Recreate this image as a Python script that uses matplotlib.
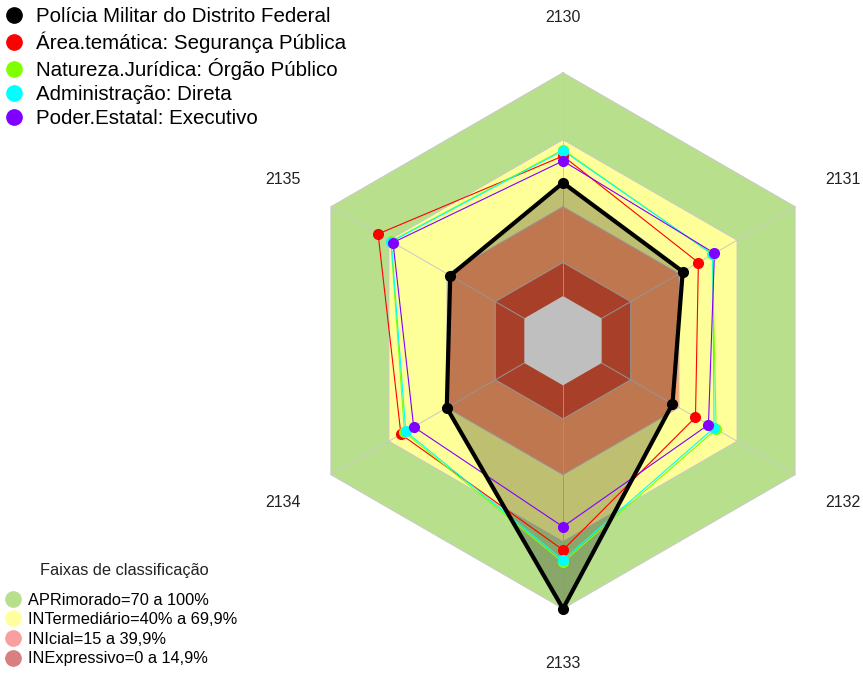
import matplotlib
matplotlib.use('Agg')
import matplotlib.pyplot as plt
import numpy as np
from matplotlib.lines import Line2D

plt.rcParams['font.family'] = ['Liberation Sans', 'DejaVu Sans']

axis_labels = ['2130', '2131', '2132', '2133', '2134', '2135']

series_names = [
    'Polícia Militar do Distrito Federal',
    'Área.temática: Segurança Pública',
    'Natureza.Jurídica: Órgão Público',
    'Administração: Direta',
    'Poder.Estatal: Executivo',
]
series_colors = ['black', '#FF0000', '#80FF00', '#00FFFF', '#8000FF']

pmdf = [50.7, 41.9, 36.6, 100.0, 40.1, 38.3]
area_tematica = [62.7, 50.0, 48.5, 73.7, 63.8, 75.6]
natureza = [65.5, 57.2, 59.2, 79.2, 62.0, 69.0]
administracao = [65.1, 57.4, 58.1, 78.2, 61.3, 68.8]
poder_estatal = [60.5, 58.3, 55.2, 63.3, 57.2, 67.9]

band_limits = [100, 70, 40, 15, 0]
band_colors = ['#B8E08C', '#FFFF99', '#FFA06B', '#E05538', '#FFFFFF']
band_title = 'Faixas de classificação'
band_labels = ['APRimorado=70 a 100%', 'INTermediário=40% a 69,9%',
               'INIcial=15 a 39,9%', 'INExpressivo=0 a 14,9%']
band_legend_colors = ['#B8E08C', '#FFFFA0', '#F8A0A0', '#D88080']

RMIN, RMAX = -20, 100
angles = np.deg2rad(90 - 60 * np.arange(len(axis_labels)))


def polygon(values):
    r = (np.asarray(values, dtype=float) - RMIN) / (RMAX - RMIN)
    x = r * np.cos(angles)
    y = r * np.sin(angles)
    return np.append(x, x[0]), np.append(y, y[0])


def ring(value):
    return polygon([value] * len(axis_labels))


W, H = 863, 675
R = 268.0
cx, cy = 563.0, 340.7

fig = plt.figure(figsize=(W / 100, H / 100), dpi=100)
ax = fig.add_axes([0, 0, 1, 1])
ax.set_xlim(-cx / R, (W - cx) / R)
ax.set_ylim((cy - H) / R, cy / R)
ax.set_aspect('equal')
ax.axis('off')

# classification bands
for lim, color in zip(band_limits, band_colors):
    x, y = ring(lim)
    ax.fill(x, y, color=color, lw=0, zorder=1)

# grid
grid_color = '#C8C8C8'
for lim in band_limits[:-1]:
    x, y = ring(lim)
    ax.plot(x, y, color=grid_color, lw=0.7, zorder=2)
r0 = (0 - RMIN) / (RMAX - RMIN)
for a in angles:
    ax.plot([r0 * np.cos(a), np.cos(a)], [r0 * np.sin(a), np.sin(a)],
            color=grid_color, lw=0.7, zorder=2)

# axis labels
for a, label in zip(angles, axis_labels):
    ax.text(1.205 * np.cos(a), 1.205 * np.sin(a), label, ha='center', va='center',
            fontsize=11.5, color='#222222')

all_series = [pmdf, area_tematica, natureza, administracao, poder_estatal]

x, y = polygon(pmdf)
ax.fill(x, y, color='black', alpha=0.25, lw=0, zorder=3)

for values, color in list(zip(all_series, series_colors))[1:]:
    x, y = polygon(values)
    ax.plot(x, y, color=color, lw=0.8, zorder=4)
    ax.plot(x[:-1], y[:-1], 'o', color=color, ms=7, zorder=5)

x, y = polygon(pmdf)
ax.plot(x, y, color='black', lw=3, zorder=6)
ax.plot(x[:-1], y[:-1], 'o', color='black', ms=7, zorder=7)

handles = [Line2D([], [], ls='', marker='o', ms=11, color=c) for c in series_colors]
leg1 = ax.legend(handles, series_names, loc='upper left', bbox_to_anchor=(5 / W, 1 - 5 / H),
                 bbox_transform=fig.transFigure, frameon=False, fontsize=14.8,
                 handlelength=0.7, handletextpad=0.7, labelspacing=0.25,
                 borderaxespad=0.0, borderpad=0.1)
ax.add_artist(leg1)

band_handles = [Line2D([], [], ls='', marker='o', ms=11, color=c) for c in band_legend_colors]
leg2 = ax.legend(band_handles, band_labels, loc='lower left', bbox_to_anchor=(5 / W, 7 / H),
                 bbox_transform=fig.transFigure, frameon=False, fontsize=11.8,
                 handlelength=0.8, handletextpad=0.5, labelspacing=0.28,
                 borderaxespad=0.0, borderpad=0.1)
fig.text(124 / W, 1 - 571 / H, band_title, ha='center', va='center', fontsize=11.8,
         color='#222222')

fig.savefig('out.png', dpi=100)
